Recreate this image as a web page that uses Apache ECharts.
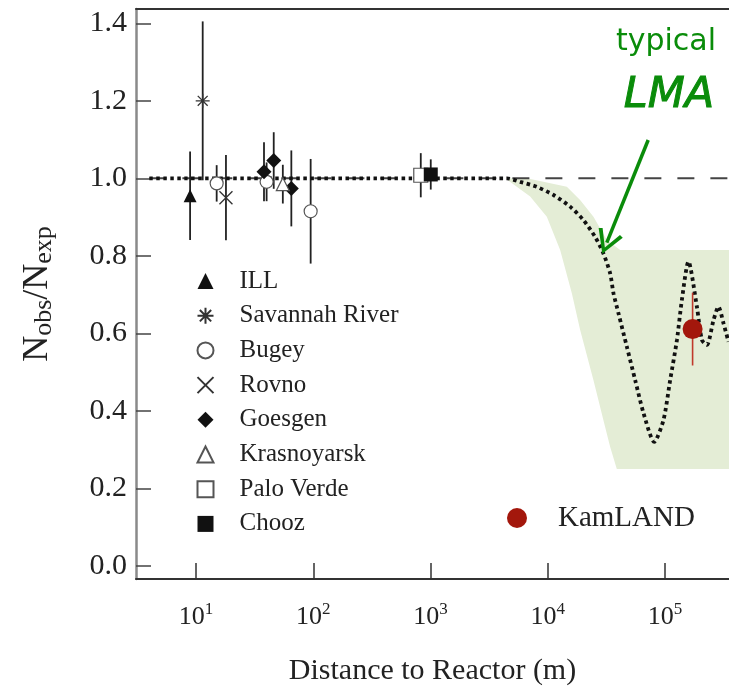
<!DOCTYPE html>
<html>
<head>
<meta charset="utf-8">
<script src="https://cdn.jsdelivr.net/npm/echarts@6/dist/echarts.min.js"></script>
<style>
  html, body { margin: 0; padding: 0; background: #fff; }
  #chart { width: 729px; height: 695px; }
</style>
</head>
<body>
<div id="chart"></div>
<script>
// Reactor experiments: observed / expected rate vs. distance to reactor (m)
const illDistance = [8.9];
const illRatio = [0.955];
const illError = [0.114];

const savannahDistance = [11.4];
const savannahRatio = [1.2];
const savannahError = [0.205];

const bugeyDistance = [15, 40, 95];
const bugeyRatio = [0.987, 0.991, 0.915];
const bugeyError = [0.047, 0.05, 0.135];

const rovnoDistance = [18];
const rovnoRatio = [0.95];
const rovnoError = [0.11];

const goesgenDistance = [38, 46, 65];
const goesgenRatio = [1.017, 1.046, 0.974];
const goesgenError = [0.076, 0.073, 0.098];

const krasnoyarskDistance = [55];
const krasnoyarskRatio = [0.985];
const krasnoyarskError = [0.05];

const paloVerdeDistance = [826];
const paloVerdeRatio = [1.008];
const paloVerdeError = [0.057];

const choozDistance = [1005];
const choozRatio = [1.01];
const choozError = [0.039];

const kamlandDistance = [172000];
const kamlandRatio = [0.611];
const kamlandError = [0.094];

// Expected survival for a typical LMA solution
const lmaDistance = [4, 1000, 4480, 5810, 8070, 11190, 15520, 20180, 25350, 29850, 34040, 36390, 40090,
  47320, 55720, 65610, 80910, 97050, 110660, 126470, 139320, 158490, 187070, 206540, 227510, 259420,
  285760, 315500, 348300];
const lmaRatio = [1, 1, 1, 0.991, 0.978, 0.957, 0.927, 0.892, 0.849, 0.806, 0.755, 0.703, 0.652,
  0.565, 0.479, 0.394, 0.320, 0.376, 0.479, 0.583, 0.686, 0.785, 0.669, 0.583, 0.570, 0.634,
  0.669, 0.626, 0.578];

// LMA allowed band (upper and lower edges)
const bandUpperDistance = [4480, 6640, 14550, 18880, 24550, 31920, 41500, 360000];
const bandUpperRatio = [1.0, 1.0, 0.978, 0.944, 0.901, 0.841, 0.815, 0.815];
const bandLowerDistance = [4480, 7080, 9820, 12760, 16070, 18880, 24550, 29850, 34040, 38820, 360000];
const bandLowerRatio = [0.997, 0.953, 0.901, 0.815, 0.703, 0.609, 0.479, 0.376, 0.307, 0.25, 0.25];

// Axis ranges and ticks
const distanceRange = [3.076, 351600];
const ratioRange = [-0.034, 1.437];
const distanceTicks = [10, 100, 1000, 10000, 100000];
const ratioTicks = [0, 0.2, 0.4, 0.6, 0.8, 1.0, 1.2, 1.4];
const noOscillationLine = [[4, 1], [360000, 1]];

// Annotation arrow (tail, head) in data space
const arrowTail = [71900, 1.099];
const arrowHead = [31900, 0.834];

const SERIF = '"Liberation Serif", "Times New Roman", serif';
const GREEN = '#0a8c0a';

const pts = (d, r) => d.map((x, i) => [x, r[i]]);
const bars = (d, r, e) => d.map((x, i) => [x, r[i] - e[i], r[i] + e[i]]);

const blackBars = [].concat(
  bars(illDistance, illRatio, illError),
  bars(savannahDistance, savannahRatio, savannahError),
  bars(bugeyDistance, bugeyRatio, bugeyError),
  bars(rovnoDistance, rovnoRatio, rovnoError),
  bars(goesgenDistance, goesgenRatio, goesgenError),
  bars(krasnoyarskDistance, krasnoyarskRatio, krasnoyarskError),
  bars(paloVerdeDistance, paloVerdeRatio, paloVerdeError),
  bars(choozDistance, choozRatio, choozError)
);

function errorBarSeries(name, rows, color, width, z) {
  return {
    type: 'custom', name: name, silent: true, z: z, clip: true,
    encode: { x: 0, y: [1, 2] },
    data: rows,
    renderItem: function (params, api) {
      const x = api.value(0);
      const a = api.coord([x, api.value(1)]);
      const b = api.coord([x, api.value(2)]);
      return { type: 'line', shape: { x1: a[0], y1: a[1], x2: b[0], y2: b[1] },
               style: { stroke: color, lineWidth: width } };
    }
  };
}

const ASTERISK = 'path://M5,0L5,10M0,5L10,5M1.46,1.46L8.54,8.54M8.54,1.46L1.46,8.54';
const CROSS = 'path://M0,0L10,10M10,0L0,10';
const openStyle = { color: '#fff', borderColor: '#555', borderWidth: 1.2, opacity: 1 };
const strokeOnly = { color: 'none', borderColor: '#333', borderWidth: 1.3, opacity: 1 };
const solidBlack = { color: '#111', opacity: 1 };

const chart = echarts.init(document.getElementById('chart'));

chart.setOption({
  animation: false,
  backgroundColor: '#fff',
  grid: { left: 136, right: 0, top: 9, bottom: 116 },
  xAxis: [
    {
      type: 'log', logBase: 10, min: distanceRange[0], max: distanceRange[1],
      axisLine: { show: true, onZero: false, lineStyle: { color: '#333', width: 2 } },
      axisTick: { show: true, inside: true, length: 16, customValues: distanceTicks,
                  lineStyle: { color: '#333', width: 1.5 } },
      minorTick: { show: false },
      splitLine: { show: false },
      axisLabel: {
        customValues: distanceTicks, margin: 22,
        formatter: function (v) { return '{b|10}{e|' + Math.round(Math.log10(v)) + '}'; },
        rich: {
          b: { fontFamily: SERIF, fontSize: 26, color: '#222', lineHeight: 32 },
          e: { fontFamily: SERIF, fontSize: 17, color: '#222', lineHeight: 17, verticalAlign: 'top' }
        }
      },
      name: 'Distance to Reactor (m)', nameLocation: 'middle', nameGap: 77,
      nameTextStyle: { fontFamily: SERIF, fontSize: 30, color: '#222' }
    },
    {
      // frame line along the top of the plot
      type: 'log', logBase: 10, min: distanceRange[0], max: distanceRange[1], position: 'top',
      axisLine: { show: true, onZero: false, lineStyle: { color: '#333', width: 2 } },
      axisTick: { show: false }, axisLabel: { show: false }, splitLine: { show: false },
      minorTick: { show: false }
    }
  ],
  yAxis: {
    type: 'value', min: ratioRange[0], max: ratioRange[1],
    axisLine: { show: true, onZero: false, lineStyle: { color: '#8a8a8a', width: 2.5 } },
    axisTick: { show: true, inside: true, length: 15, customValues: ratioTicks,
                lineStyle: { color: '#444', width: 1.5 } },
    splitLine: { show: false },
    axisLabel: {
      customValues: ratioTicks, margin: 9,
      formatter: function (v) { return v.toFixed(1); },
      fontFamily: SERIF, fontSize: 30, color: '#222'
    },
    name: '{n|N}{s|obs}{n|/N}{s|exp}', nameLocation: 'middle', nameGap: 79, nameRotate: 90,
    nameTextStyle: {
      rich: {
        n: { fontFamily: SERIF, fontSize: 36, color: '#222', lineHeight: 38 },
        s: { fontFamily: SERIF, fontSize: 26, color: '#222', lineHeight: 26, verticalAlign: 'bottom', padding: [19, 0, 0, 0] }
      }
    }
  },
  legend: [
    {
      data: ['ILL', 'Savannah River', 'Bugey', 'Rovno', 'Goesgen', 'Krasnoyarsk', 'Palo Verde', 'Chooz'],
      orient: 'vertical', left: 190, top: 263, itemWidth: 16, itemHeight: 16, itemGap: 8.7,
      selectedMode: false,
      textStyle: { fontFamily: SERIF, fontSize: 25, color: '#222', lineHeight: 26, padding: [0, 0, 0, 21] }
    },
    {
      data: ['KamLAND'],
      orient: 'vertical', left: 502, top: 498, itemWidth: 20, itemHeight: 20,
      selectedMode: false,
      textStyle: { fontFamily: SERIF, fontSize: 29, color: '#222', lineHeight: 30, padding: [0, 0, 0, 26] }
    }
  ],
  graphic: [
    { type: 'text', x: 666, y: 42, z: 100,
      style: { text: 'typical', fontFamily: '"DejaVu Sans", sans-serif', fontSize: 30,
               fill: GREEN, align: 'center', verticalAlign: 'middle' } },
    { type: 'text', x: 669, y: 96, z: 100,
      style: { text: 'LMA', fontFamily: '"DejaVu Sans", sans-serif', fontSize: 43,
               fontStyle: 'italic', fill: GREEN, align: 'center', verticalAlign: 'middle',
               stroke: GREEN, lineWidth: 1 } }
  ],
  series: [
    {
      type: 'custom', name: 'LMA band', silent: true, z: 1, clip: true,
      data: [[bandUpperDistance[0], bandUpperRatio[0]]],
      encode: { x: 0, y: 1 },
      renderItem: function (params, api) {
        const poly = [];
        bandUpperDistance.forEach((d, i) => poly.push(api.coord([d, bandUpperRatio[i]])));
        for (let i = bandLowerDistance.length - 1; i >= 0; i--) {
          poly.push(api.coord([bandLowerDistance[i], bandLowerRatio[i]]));
        }
        return { type: 'polygon', shape: { points: poly }, style: { fill: '#e4edd6', stroke: 'none' } };
      }
    },
    {
      type: 'line', name: 'unity', silent: true, z: 2, symbol: 'none',
      data: noOscillationLine,
      lineStyle: { color: '#444', width: 2, type: [17, 16] }
    },
    {
      type: 'line', name: 'LMA', silent: true, z: 4, symbol: 'none', smooth: 0.25,
      data: pts(lmaDistance, lmaRatio),
      lineStyle: { color: '#111', width: 3.8, type: [3.5, 3.5], cap: 'butt' },
      markLine: {
        silent: true, z: 10,
        symbol: ['none', 'path://M0,10L5,0L10,10L8.6,10.7L5,3L1.4,10.7Z'],
        symbolSize: [26, 24],
        label: { show: false },
        lineStyle: { color: GREEN, width: 3.5, type: 'solid' },
        emphasis: { disabled: true },
        data: [[{ coord: arrowTail }, { coord: arrowHead }]]
      }
    },
    errorBarSeries('error bars', blackBars, '#222', 1.8, 3),
    errorBarSeries('KamLAND error', bars(kamlandDistance, kamlandRatio, kamlandError), '#c0392b', 1.6, 5),
    { type: 'scatter', name: 'ILL', z: 6, symbol: 'triangle', symbolSize: 13,
      data: pts(illDistance, illRatio), itemStyle: solidBlack },
    { type: 'scatter', name: 'Savannah River', z: 6, symbol: ASTERISK, symbolSize: 14,
      data: pts(savannahDistance, savannahRatio), itemStyle: strokeOnly },
    { type: 'scatter', name: 'Bugey', z: 6, symbol: 'circle', symbolSize: 13,
      data: pts(bugeyDistance, bugeyRatio), itemStyle: openStyle },
    { type: 'scatter', name: 'Rovno', z: 6, symbol: CROSS, symbolSize: 13,
      data: pts(rovnoDistance, rovnoRatio), itemStyle: strokeOnly },
    { type: 'scatter', name: 'Goesgen', z: 6, symbol: 'diamond', symbolSize: 15,
      data: pts(goesgenDistance, goesgenRatio), itemStyle: solidBlack },
    { type: 'scatter', name: 'Krasnoyarsk', z: 6, symbol: 'triangle', symbolSize: 13,
      data: pts(krasnoyarskDistance, krasnoyarskRatio), itemStyle: openStyle },
    { type: 'scatter', name: 'Palo Verde', z: 6, symbol: 'rect', symbolSize: 14,
      data: pts(paloVerdeDistance, paloVerdeRatio), itemStyle: openStyle },
    { type: 'scatter', name: 'Chooz', z: 6, symbol: 'rect', symbolSize: 14,
      data: pts(choozDistance, choozRatio), itemStyle: solidBlack },
    { type: 'scatter', name: 'KamLAND', z: 7, symbol: 'circle', symbolSize: 20,
      data: pts(kamlandDistance, kamlandRatio), itemStyle: { color: '#a3170c', opacity: 1 } }
  ]
});
</script>
</body>
</html>
